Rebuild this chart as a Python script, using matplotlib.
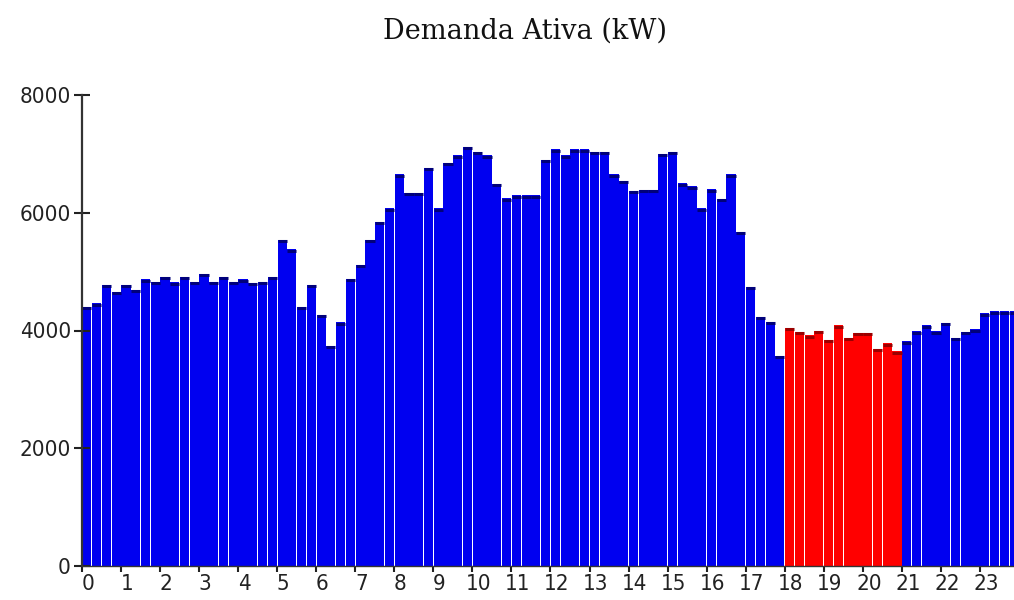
import numpy as np
import matplotlib
matplotlib.use("Agg")
import matplotlib.pyplot as plt
import matplotlib.transforms as mtransforms

# demanda a cada 15 min (kW), 4 valores por hora
demanda = [
    4400, 4460, 4780, 4660,   # 0
    4780, 4690, 4870, 4830,   # 1
    4910, 4820, 4910, 4830,   # 2
    4960, 4830, 4910, 4830,   # 3
    4870, 4810, 4830, 4910,   # 4
    5540, 5380, 4400, 4780,   # 5
    4270, 3740, 4140, 4880,   # 6
    5120, 5540, 5850, 6080,   # 7
    6650, 6340, 6340, 6760,   # 8
    6080, 6850, 6980, 7120,   # 9
    7040, 6980, 6490, 6250,   # 10
    6300, 6300, 6300, 6900,   # 11
    7080, 6980, 7080, 7080,   # 12
    7040, 7040, 6650, 6540,   # 13
    6370, 6390, 6390, 7000,   # 14
    7040, 6500, 6450, 6080,   # 15
    6400, 6240, 6650, 5680,   # 16
    4740, 4230, 4150, 3570,   # 17
    4050, 3980, 3920, 4000,   # 18
    3840, 4090, 3880, 3960,   # 19
    3960, 3690, 3780, 3650,   # 20
    3820, 3990, 4090, 3990,   # 21
    4130, 3880, 3980, 4020,   # 22
    4290, 4330, 4330, 4330,   # 23
]
horas = list(range(24))
horario_ponta = [18, 19, 20]
yticks = [0, 2000, 4000, 6000, 8000]

demanda = np.array(demanda)
n = len(demanda)
x = (np.arange(n) + 0.5) / 4.0
hora_da_barra = np.arange(n) // 4
ponta = np.isin(hora_da_barra, horario_ponta)

cor = np.where(ponta, "#ff0000", "#0000f0")
cor_topo = np.where(ponta, "#9a0000", "#00007a")

fig = plt.figure(figsize=(10.14, 6.0), dpi=100)
ax = fig.add_axes([82 / 1014, 1 - 566 / 600, 937 / 1014, 471 / 600])

w = 0.25 * 0.94
ax.bar(x, demanda, width=w, color=cor, linewidth=0)
ax.hlines(demanda - 25, x - w / 2, x + w / 2, colors=cor_topo, linewidth=2.2)

ax.set_xlim(0, 24)
ax.set_ylim(0, 8000)

for s in ["top", "right"]:
    ax.spines[s].set_visible(False)
ax.spines["left"].set_color("#333333")
ax.spines["left"].set_linewidth(1.6)
ax.spines["bottom"].set_color("#333333")
ax.spines["bottom"].set_linewidth(1.0)

ax.set_xticks(horas)
ax.set_xticklabels([str(h) for h in horas])
ax.set_yticks(yticks)
ax.set_yticklabels([str(v) for v in yticks])
for lbl in ax.get_xticklabels() + ax.get_yticklabels():
    lbl.set_family("DejaVu Sans")
    lbl.set_stretch("condensed")
    lbl.set_fontsize(16)
    lbl.set_color("#222222")
ax.tick_params(axis="y", direction="inout", length=12, width=1.5, pad=2, colors="#222222")
ax.tick_params(axis="x", direction="out", length=4, width=1.5, pad=2, colors="#222222")

# rótulos das horas um pouco à direita da marca
desloc = mtransforms.ScaledTranslation(6 / 100, 0, fig.dpi_scale_trans)
for lbl in ax.get_xticklabels():
    lbl.set_transform(lbl.get_transform() + desloc)

fig.text(525 / 1014, 1 - 31 / 600, "Demanda Ativa (kW)", ha="center", va="center",
         family="DejaVu Serif", fontsize=19.5, color="#111111")

fig.savefig("out.png", dpi=100)
